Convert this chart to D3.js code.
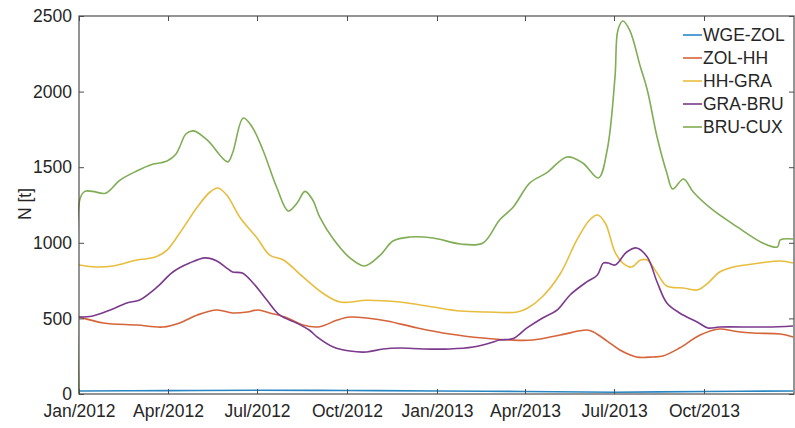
<!DOCTYPE html>
<html>
<head>
<meta charset="utf-8">
<script src="https://cdn.jsdelivr.net/npm/d3@7"></script>
<style>
  html, body { margin: 0; padding: 0; background: #fff; }
  svg { display: block; font-family: "Liberation Sans", Arial, sans-serif; }
</style>
</head>
<body>
<div id="chart"></div>
<script>
// series names and colours (legend order)
const seriesNames = ["WGE-ZOL", "ZOL-HH", "HH-GRA", "GRA-BRU", "BRU-CUX"];
const seriesColors = ["#2a86c2", "#d6643a", "#e8bd3f", "#7b3a8c", "#80ad55"];

// [date, N in t]
const wgeZol = [
  ["2012-01-01", 20], ["2012-04-01", 22], ["2012-07-01", 25], ["2012-10-01", 23],
  ["2013-01-01", 20], ["2013-04-01", 17], ["2013-07-01", 12], ["2013-10-01", 17],
  ["2013-12-31", 20]
];
const zolHh = [
  ["2012-01-01", 510], ["2012-01-26", 470], ["2012-02-29", 456], ["2012-03-27", 443],
  ["2012-04-13", 470], ["2012-05-01", 523], ["2012-05-21", 556], ["2012-06-06", 536],
  ["2012-06-21", 542], ["2012-07-02", 556], ["2012-07-14", 536], ["2012-08-01", 503],
  ["2012-08-17", 456], ["2012-09-03", 445], ["2012-09-21", 489], ["2012-10-04", 509],
  ["2012-10-21", 503], ["2012-11-11", 483], ["2012-12-12", 437], ["2013-01-14", 397],
  ["2013-02-17", 370], ["2013-03-17", 357], ["2013-04-09", 357], ["2013-05-07", 390],
  ["2013-06-03", 423], ["2013-06-10", 410], ["2013-06-24", 350], ["2013-07-07", 291],
  ["2013-07-24", 245], ["2013-08-10", 245], ["2013-08-20", 251], ["2013-09-06", 304],
  ["2013-09-27", 390], ["2013-10-17", 430], ["2013-10-31", 417], ["2013-11-20", 403],
  ["2013-12-18", 397], ["2013-12-31", 377]
];
const hhGra = [
  ["2012-01-01", 853], ["2012-01-19", 840], ["2012-02-05", 847], ["2012-02-29", 886],
  ["2012-03-19", 906], ["2012-03-31", 952], ["2012-04-13", 1065], ["2012-05-01", 1237],
  ["2012-05-14", 1336], ["2012-05-22", 1362], ["2012-05-31", 1316], ["2012-06-14", 1164],
  ["2012-07-01", 1032], ["2012-07-14", 919], ["2012-07-28", 886], ["2012-08-17", 774],
  ["2012-09-06", 668], ["2012-09-24", 608], ["2012-10-21", 620], ["2012-11-24", 608],
  ["2012-12-28", 575], ["2013-01-25", 549], ["2013-02-21", 542], ["2013-03-24", 542],
  ["2013-04-03", 565], ["2013-04-19", 645], ["2013-05-07", 795], ["2013-05-24", 1019],
  ["2013-06-06", 1151], ["2013-06-14", 1184], ["2013-06-22", 1131], ["2013-07-02", 939],
  ["2013-07-10", 866], ["2013-07-19", 840], ["2013-07-28", 886], ["2013-08-04", 886],
  ["2013-08-14", 800], ["2013-08-24", 714], ["2013-09-10", 701], ["2013-09-24", 688],
  ["2013-10-05", 734], ["2013-10-17", 807], ["2013-10-31", 840], ["2013-11-27", 866],
  ["2013-12-18", 880], ["2013-12-31", 866]
];
const graBru = [
  ["2012-01-01", 509], ["2012-01-15", 516], ["2012-02-02", 556], ["2012-02-19", 602],
  ["2012-03-03", 622], ["2012-03-21", 708], ["2012-04-06", 807], ["2012-04-23", 866],
  ["2012-05-09", 900], ["2012-05-21", 880], ["2012-05-31", 833], ["2012-06-06", 807],
  ["2012-06-16", 800], ["2012-06-27", 734], ["2012-07-11", 622], ["2012-07-24", 523],
  ["2012-08-11", 468], ["2012-08-24", 420], ["2012-08-31", 380], ["2012-09-17", 311],
  ["2012-10-04", 284], ["2012-10-21", 278], ["2012-11-07", 298], ["2012-11-24", 304],
  ["2012-12-18", 298], ["2013-01-14", 298], ["2013-02-07", 311], ["2013-02-24", 337],
  ["2013-03-06", 357], ["2013-03-20", 367], ["2013-04-03", 437], ["2013-04-19", 503],
  ["2013-05-04", 556], ["2013-05-17", 655], ["2013-06-03", 741], ["2013-06-14", 787],
  ["2013-06-20", 866], ["2013-06-25", 866], ["2013-07-02", 853], ["2013-07-14", 939],
  ["2013-07-24", 966], ["2013-08-04", 906], ["2013-08-14", 741], ["2013-08-24", 602],
  ["2013-09-06", 536], ["2013-09-24", 476], ["2013-10-05", 437], ["2013-10-17", 443],
  ["2013-12-04", 443], ["2013-12-31", 450]
];
const bruCux = [
  ["2012-01-01", 0], ["2012-01-02", 1290], ["2012-01-07", 1340], ["2012-01-15", 1340],
  ["2012-01-28", 1328], ["2012-02-12", 1415], ["2012-02-29", 1475], ["2012-03-14", 1515],
  ["2012-03-31", 1541], ["2012-04-09", 1585], ["2012-04-14", 1650], ["2012-04-19", 1718],
  ["2012-04-27", 1740], ["2012-05-11", 1680], ["2012-06-01", 1535], ["2012-06-06", 1594],
  ["2012-06-17", 1825], ["2012-06-26", 1766], ["2012-07-07", 1614], ["2012-07-21", 1369],
  ["2012-08-02", 1210], ["2012-08-11", 1263], ["2012-08-19", 1340], ["2012-08-27", 1283],
  ["2012-09-03", 1171], ["2012-09-17", 1025], ["2012-10-04", 900], ["2012-10-19", 847],
  ["2012-11-04", 919], ["2012-11-17", 1012], ["2012-12-04", 1038], ["2012-12-28", 1032],
  ["2013-01-25", 992], ["2013-02-17", 999], ["2013-03-06", 1151], ["2013-03-20", 1237],
  ["2013-04-06", 1396], ["2013-04-23", 1462], ["2013-05-14", 1568], ["2013-05-30", 1528],
  ["2013-06-15", 1429], ["2013-06-24", 1614], ["2013-07-02", 2097], ["2013-07-05", 2407],
  ["2013-07-10", 2467], ["2013-07-17", 2407], ["2013-07-28", 2163], ["2013-08-04", 2011],
  ["2013-08-14", 1700], ["2013-08-24", 1462], ["2013-08-30", 1356], ["2013-09-10", 1422],
  ["2013-09-20", 1336], ["2013-10-10", 1217], ["2013-11-04", 1105], ["2013-11-30", 999],
  ["2013-12-15", 972], ["2013-12-18", 1019], ["2013-12-31", 1025]
];
const seriesData = [wgeZol, zolHh, hhGra, graBru, bruCux];

// axis ticks
const xTickDates = ["2012-01-01", "2012-04-01", "2012-07-01", "2012-10-01",
                    "2013-01-01", "2013-04-01", "2013-07-01", "2013-10-01"];
const yTicks = [0, 500, 1000, 1500, 2000, 2500];

const width = 795, height = 428;
const plotLeft = 79, plotRight = 794, plotTop = 16, plotBottom = 394;
const parse = d3.timeParse("%Y-%m-%d");

const x = d3.scaleTime()
  .domain([parse("2012-01-01"), parse("2014-01-01")])
  .range([plotLeft, plotRight]);
const y = d3.scaleLinear().domain([0, 2500]).range([plotBottom, plotTop]);

const svg = d3.select("#chart").append("svg")
  .attr("width", width).attr("height", height);

svg.append("defs").append("clipPath").attr("id", "plot")
  .append("rect").attr("x", plotLeft - 1).attr("y", plotTop - 2)
  .attr("width", plotRight - plotLeft + 1).attr("height", plotBottom - plotTop + 2);

const axisColor = "#4d4d4d";
const textColor = "#262626";
const fontSize = "17.5px";

const line = d3.line()
  .x(d => x(parse(d[0])))
  .y(d => y(d[1]))
  .curve(d3.curveCatmullRom.alpha(0.5));

svg.append("g").attr("clip-path", "url(#plot)")
  .selectAll("path")
  .data(seriesData)
  .join("path")
  .attr("d", line)
  .attr("fill", "none")
  .attr("stroke", (d, i) => seriesColors[i])
  .attr("stroke-width", 1.6)
  .attr("stroke-linejoin", "round");

const xTicks = xTickDates.map(parse);

function styleAxis(g) {
  g.select(".domain").remove();
  g.selectAll(".tick line").attr("stroke", axisColor).attr("stroke-width", 1);
  g.selectAll(".tick text").attr("fill", textColor).style("font-size", fontSize);
}

svg.append("g").attr("transform", `translate(0,${plotBottom})`)
  .call(d3.axisBottom(x).tickValues(xTicks).tickFormat(d3.timeFormat("%b/%Y"))
    .tickSize(-5).tickPadding(11))
  .call(styleAxis);

svg.append("g").attr("transform", `translate(0,${plotTop})`)
  .call(d3.axisTop(x).tickValues(xTicks).tickFormat("").tickSize(-5))
  .call(styleAxis);

svg.append("g").attr("transform", `translate(${plotLeft},0)`)
  .call(d3.axisLeft(y).tickValues(yTicks).tickFormat(d3.format("d"))
    .tickSize(-5).tickPadding(7))
  .call(styleAxis);

svg.append("g").attr("transform", `translate(${plotRight},0)`)
  .call(d3.axisRight(y).tickValues(yTicks).tickFormat("").tickSize(-5))
  .call(styleAxis);

svg.append("rect")
  .attr("x", plotLeft).attr("y", plotTop)
  .attr("width", plotRight - plotLeft).attr("height", plotBottom - plotTop)
  .attr("fill", "none").attr("stroke", axisColor).attr("stroke-width", 1.2);

svg.append("text")
  .attr("transform", `translate(31,204) rotate(-90)`)
  .attr("text-anchor", "middle")
  .attr("fill", textColor)
  .style("font-size", fontSize)
  .text("N [t]");

const legend = svg.append("g").attr("transform", "translate(683,35)");
const item = legend.selectAll("g")
  .data(seriesNames)
  .join("g")
  .attr("transform", (d, i) => `translate(0,${i * 23})`);
item.append("line")
  .attr("x1", 0).attr("x2", 19)
  .attr("stroke", (d, i) => seriesColors[i])
  .attr("stroke-width", 1.6);
item.append("text")
  .attr("x", 20).attr("dy", "0.36em")
  .attr("fill", textColor)
  .style("font-size", fontSize)
  .text(d => d);
</script>
</body>
</html>
